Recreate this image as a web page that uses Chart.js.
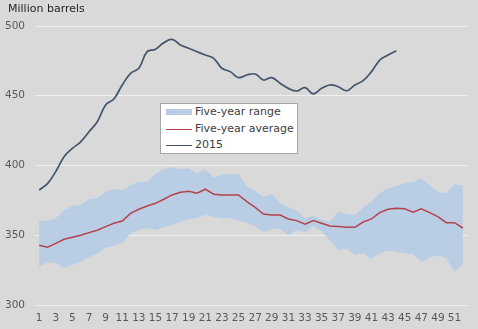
<!DOCTYPE html>
<html>
<head>
<meta charset="utf-8">
<script src="https://cdn.jsdelivr.net/npm/chart.js@4/dist/chart.umd.min.js"></script>
<style>
  html, body { margin: 0; padding: 0; background: #d9d9d9; }
  #wrap { position: relative; width: 478px; height: 329px; background: #d9d9d9; overflow: hidden; }
  #c { position: absolute; left: 0; top: 0; }
  #ylab { position: absolute; left: 8px; top: 2px; font: 11px "DejaVu Sans", Verdana, sans-serif; color: #262626; white-space: nowrap; }
  #legend { position: absolute; left: 160px; top: 103px; width: 136px; height: 49px; background: #ffffff; border: 1px solid #a6a6a6; font: 11px "DejaVu Sans", Verdana, sans-serif; color: #404040; }
  .item { position: absolute; left: 5px; height: 14px; line-height: 14px; white-space: nowrap; }
  .sw { position: absolute; left: 0; width: 26px; }
  .lt { position: absolute; left: 29px; top: 0; }
</style>
</head>
<body>
<div id="wrap">
  <canvas id="c" width="478" height="329"></canvas>
  <div id="ylab">Million barrels</div>
  <div id="legend"></div>
</div>
<script>
const weeks = Array.from({length: 52}, (_, i) => String(i + 1));

const rangeLow = [327.5, 330.6, 329.9, 326.7, 328.7, 331.1, 334.2, 337.1, 341.1, 342.5,
  344.2, 351.4, 353.8, 355.4, 353.8, 355.7, 357.4, 359.7, 361.7, 362.1,
  364.5, 363.3, 361.9, 362.6, 360.2, 359.0, 356.2, 352.4, 354.3, 354.7,
  350.0, 353.8, 351.9, 356.6, 352.6, 346.6, 339.4, 340.4, 336.1, 337.1,
  333.2, 337.1, 339.0, 338.2, 337.1, 336.6, 330.8, 334.2, 335.6, 333.5,
  323.9, 329.4];

const rangeHigh = [360.9, 360.2, 362.1, 368.1, 371.0, 371.7, 375.8, 376.9, 381.2, 383.0,
  382.4, 386.0, 388.2, 388.2, 393.9, 397.3, 398.7, 397.3, 398.0, 394.4,
  397.3, 391.5, 393.2, 393.9, 393.9, 384.8, 381.9, 377.2, 379.6, 373.4,
  370.0, 367.6, 362.1, 363.8, 360.9, 359.7, 366.9, 365.2, 364.5, 370.0,
  374.1, 380.1, 383.7, 385.3, 387.7, 388.2, 390.8, 386.0, 381.2, 380.1,
  386.7, 385.3];

const fiveYearAvg = [342.8, 341.4, 344.2, 347.1, 348.5, 350.0, 351.9, 353.6, 356.2, 358.6,
  360.2, 365.7, 368.6, 371.0, 372.9, 375.8, 378.9, 380.8, 381.5, 380.1,
  383.0, 379.4, 378.9, 378.9, 378.9, 374.1, 370.0, 365.2, 364.5, 364.5,
  361.7, 360.5, 357.9, 360.5, 358.6, 356.6, 356.2, 355.7, 355.7, 359.5,
  361.7, 366.2, 368.6, 369.3, 369.0, 366.5, 369.0, 366.2, 363.3, 359.0,
  359.0, 355.2];

const y2015 = [382.4, 387.0, 395.6, 406.3, 412.3, 417.0, 424.2, 431.4, 443.4, 447.7,
  457.7, 466.1, 469.7, 481.6, 483.3, 488.0, 490.4, 486.4, 484.0, 481.6,
  479.2, 476.8, 469.7, 467.3, 463.0, 464.9, 465.6, 461.3, 463.0, 458.9,
  455.3, 453.4, 455.8, 451.3, 455.3, 457.7, 456.5, 453.6, 457.7, 460.8,
  467.3, 475.6, 479.2, 482.3];

const yTicks = [300, 350, 400, 450, 500];

const seriesNames = ['Five-year range', 'Five-year average', '2015'];
const colRange = '#b9cde5';
const colAvg = '#b5434b';
const col2015 = '#44546a';

const chart = new Chart(document.getElementById('c'), {
  type: 'line',
  data: {
    labels: weeks,
    datasets: [
      { label: 'low', data: rangeLow, borderWidth: 0, borderColor: 'rgba(0,0,0,0)', pointRadius: 0, fill: false, order: 4, tension: 0 },
      { label: seriesNames[0], data: rangeHigh, borderWidth: 0, borderColor: 'rgba(0,0,0,0)', backgroundColor: colRange, pointRadius: 0, fill: '-1', order: 3, tension: 0 },
      { label: seriesNames[1], data: fiveYearAvg, borderWidth: 1.5, borderColor: colAvg, pointRadius: 0, fill: false, order: 2, tension: 0 },
      { label: seriesNames[2], data: y2015, borderWidth: 1.7, borderColor: col2015, pointRadius: 0, fill: false, order: 1, tension: 0.4 }
    ]
  },
  options: {
    responsive: false,
    animation: false,
    events: [],
    layout: { padding: { left: 0, right: 11, top: 26, bottom: 0 } },
    plugins: { legend: { display: false }, title: { display: false }, tooltip: { enabled: false } },
    scales: {
      x: {
        offset: true,
        grid: { display: false, drawTicks: false },
        border: { display: false },
        ticks: {
          autoSkip: false, maxRotation: 0, minRotation: 0, padding: 7,
          color: '#595959', font: { family: 'DejaVu Sans', size: 10.5 },
          callback: function(v, i) { return i % 2 === 0 ? weeks[i] : ''; }
        },
        afterFit: function(s) { s.height = 24; }
      },
      y: {
        min: 300, max: 500,
        afterBuildTicks: function(s) { s.ticks = yTicks.map(v => ({ value: v })); },
        grid: { color: '#f0f0f0', lineWidth: 1, drawTicks: false },
        border: { display: false },
        ticks: { padding: 10, color: '#595959', font: { family: 'DejaVu Sans', size: 10.5 } },
        afterFit: function(s) { s.width = 35; }
      }
    }
  }
});

// HTML legend built from the series names / colours
const lg = document.getElementById('legend');
const items = [
  { name: seriesNames[0], type: 'box', color: colRange },
  { name: seriesNames[1], type: 'line', color: colAvg },
  { name: seriesNames[2], type: 'line', color: col2015 }
];
items.forEach((it, i) => {
  const d = document.createElement('div');
  d.className = 'item';
  d.style.top = (1 + i * 16.5) + 'px';
  const sw = document.createElement('div');
  sw.className = 'sw';
  if (it.type === 'box') { sw.style.top = '4px'; sw.style.height = '6px'; sw.style.background = it.color; }
  else { sw.style.top = '7px'; sw.style.height = '0'; sw.style.borderTop = '1.5px solid ' + it.color; }
  const t = document.createElement('span');
  t.className = 'lt';
  t.textContent = it.name;
  d.appendChild(sw); d.appendChild(t);
  lg.appendChild(d);
});
</script>
</body>
</html>
